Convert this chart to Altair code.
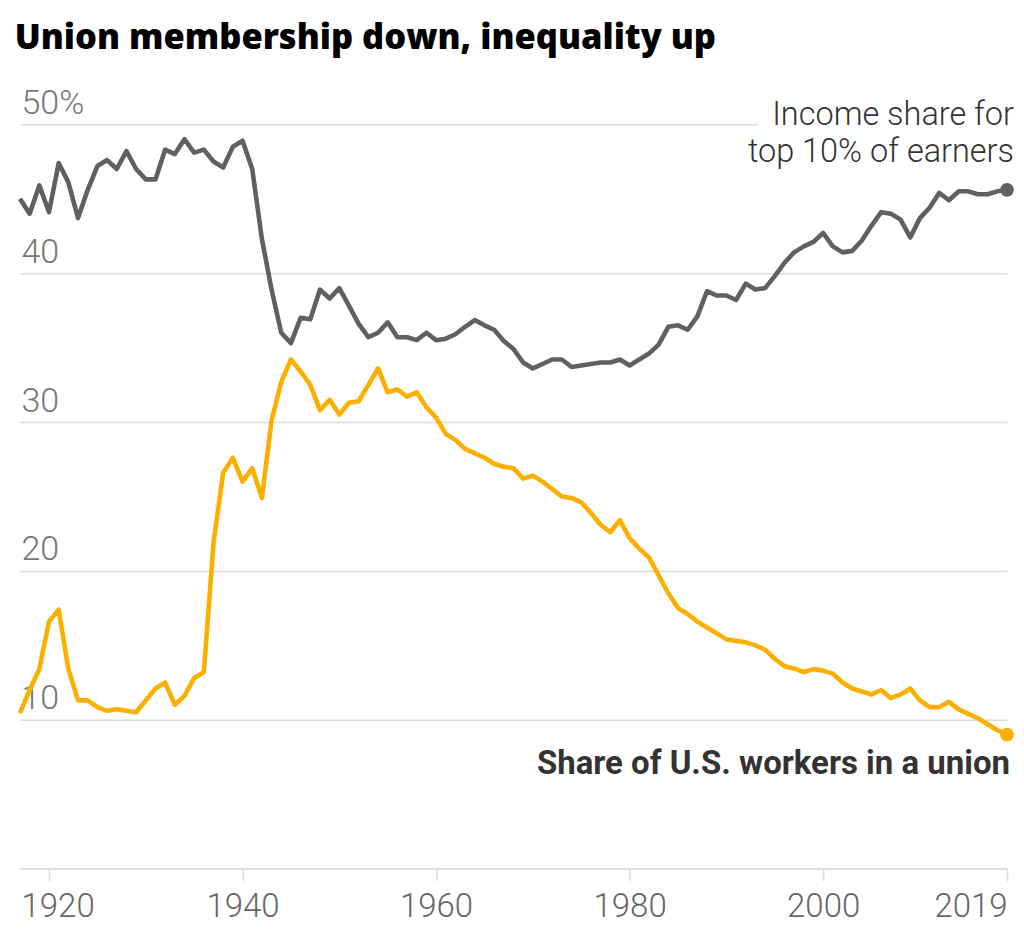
import altair as alt
import pandas as pd

title_text = "Union membership down, inequality up"
label_top10 = "Income share for\ntop 10% of earners"
label_union = "Share of U.S. workers in a union"

years = list(range(1917, 2020))

top10_share = [
    45.0, 44.0, 45.9, 44.1, 47.4, 46.1, 43.7, 45.6, 47.2, 47.6,
    47.0, 48.2, 47.0, 46.3, 46.3, 48.3, 48.0, 49.0, 48.1, 48.3,
    47.5, 47.1, 48.5, 48.9, 47.0, 42.3, 38.9, 36.0, 35.3, 37.0,
    36.9, 38.9, 38.3, 39.0, 37.8, 36.6, 35.7, 36.0, 36.7, 35.7,
    35.7, 35.5, 36.0, 35.5, 35.6, 35.9, 36.4, 36.85, 36.5, 36.2,
    35.45, 34.9, 34.0, 33.6, 33.9, 34.2, 34.2, 33.7, 33.8, 33.9,
    34.0, 34.0, 34.2, 33.8, 34.2, 34.6, 35.2, 36.4, 36.5, 36.2,
    37.1, 38.8, 38.5, 38.5, 38.2, 39.3, 38.9, 39.0, 39.8, 40.7,
    41.4, 41.8, 42.1, 42.7, 41.8, 41.4, 41.5, 42.2, 43.2, 44.1,
    44.0, 43.6, 42.4, 43.7, 44.4, 45.4, 44.9, 45.5, 45.5, 45.3,
    45.3, 45.5, 45.6,
]

union_share = [
    10.45, 12.0, 13.4, 16.6, 17.4, 13.4, 11.3, 11.3, 10.85, 10.6,
    10.7, 10.6, 10.5, 11.3, 12.1, 12.5, 11.0, 11.6, 12.8, 13.2,
    21.9, 26.6, 27.6, 26.0, 26.9, 24.9, 30.1, 32.7, 34.2, 33.4,
    32.5, 30.8, 31.5, 30.5, 31.3, 31.4, 32.5, 33.6, 32.0, 32.2,
    31.7, 32.0, 31.0, 30.3, 29.2, 28.8, 28.2, 27.9, 27.6, 27.2,
    27.0, 26.9, 26.2, 26.4, 26.0, 25.5, 25.0, 24.9, 24.6, 23.9,
    23.1, 22.6, 23.4, 22.2, 21.5, 20.9, 19.7, 18.5, 17.5, 17.1,
    16.6, 16.2, 15.8, 15.4, 15.3, 15.2, 15.0, 14.7, 14.1, 13.6,
    13.45, 13.2, 13.4, 13.3, 13.1, 12.5, 12.1, 11.9, 11.7, 12.0,
    11.45, 11.7, 12.1, 11.3, 10.85, 10.85, 11.2, 10.7, 10.4, 10.1,
    9.7, 9.3, 9.0,
]

x_ticks = [1920, 1940, 1960, 1980, 2000, 2019]
y_ticks = [0, 10, 20, 30, 40, 50]

df = pd.DataFrame({"year": years, "top10": top10_share, "union": union_share})
long = df.melt("year", var_name="series", value_name="value")

W = 988
H = 745
FONT = "Roboto"

x_enc = alt.X(
    "year:Q",
    scale=alt.Scale(domain=[1917, 2019], nice=False, zero=False),
    axis=alt.Axis(
        values=x_ticks, format="d", grid=False, title=None,
        domainColor="#dcdcdc", domainWidth=1.5,
        tickColor="#dcdcdc", tickWidth=1.5, tickSize=12,
        labelFont=FONT, labelFontSize=33, labelFontWeight=300, labelColor="#666666",
        labelPadding=10, labelOverlap=False,
        labelAlign={"condition": [
            {"test": "datum.value == 1920", "value": "left"},
            {"test": "datum.value == 2019", "value": "right"}], "value": "center"},
        labelOffset={"condition": {"test": "datum.value == 1920", "value": -28}, "value": 0},
    ),
)

y_enc = alt.Y(
    "value:Q",
    scale=alt.Scale(domain=[0, 50], nice=False),
    axis=alt.Axis(
        values=y_ticks, title=None, domain=False, ticks=False, tickSize=0,
        grid=True, gridColor="#dcdcdc", gridWidth=1.5,
        labelExpr="datum.value == 0 ? '' : (datum.value == 50 ? '50%' : datum.label)",
        labelAlign="left", labelBaseline="alphabetic", labelPadding=-1, labelOffset=-11,
        labelFont=FONT, labelFontSize=34, labelFontWeight=300, labelColor="#777777",
        labelOverlap=False,
    ),
)

color = alt.Color("series:N", scale=alt.Scale(domain=["top10", "union"],
                                              range=["#606060", "#fbb000"]), legend=None)

base = alt.Chart(long)

mask = alt.Chart(pd.DataFrame({"k": [0]})).mark_rule(color="white", strokeWidth=5).encode(
    x=alt.value(738), x2=alt.value(W + 6), y=alt.value(0)
)

lines = base.mark_line(strokeWidth=4.6, strokeJoin="round", strokeCap="butt").encode(
    x=x_enc, y=y_enc, color=color
)

dots = base.transform_filter("datum.year == 2019").mark_circle(size=190, opacity=1).encode(
    x="year:Q", y="value:Q", color=color
)

ann_top = alt.Chart(pd.DataFrame({"t": [label_top10]})).mark_text(
    align="right", baseline="alphabetic", font=FONT, fontSize=32.5, fontWeight=300,
    color="#333333", lineBreak="\n", lineHeight=37
).encode(text="t:N", x=alt.value(W + 7), y=alt.value(1))

ann_union = alt.Chart(pd.DataFrame({"t": [label_union]})).mark_text(
    align="right", baseline="alphabetic", font=FONT, fontSize=33, fontWeight="bold",
    color="#333333"
).encode(text="t:N", x=alt.value(W + 3), y=alt.value(650))

chart = alt.layer(mask, lines, dots, ann_top, ann_union).properties(
    width=W, height=H,
    padding={"left": 6, "top": 12, "right": 0, "bottom": 5},
    title=alt.TitleParams(title_text, anchor="start", font="Open Sans", fontSize=34.5,
                          fontWeight=800, color="#000000", offset=30, dx=-3),
).configure_view(stroke=None)

chart.save("out.html", embed_options={"renderer": "svg", "actions": False})
